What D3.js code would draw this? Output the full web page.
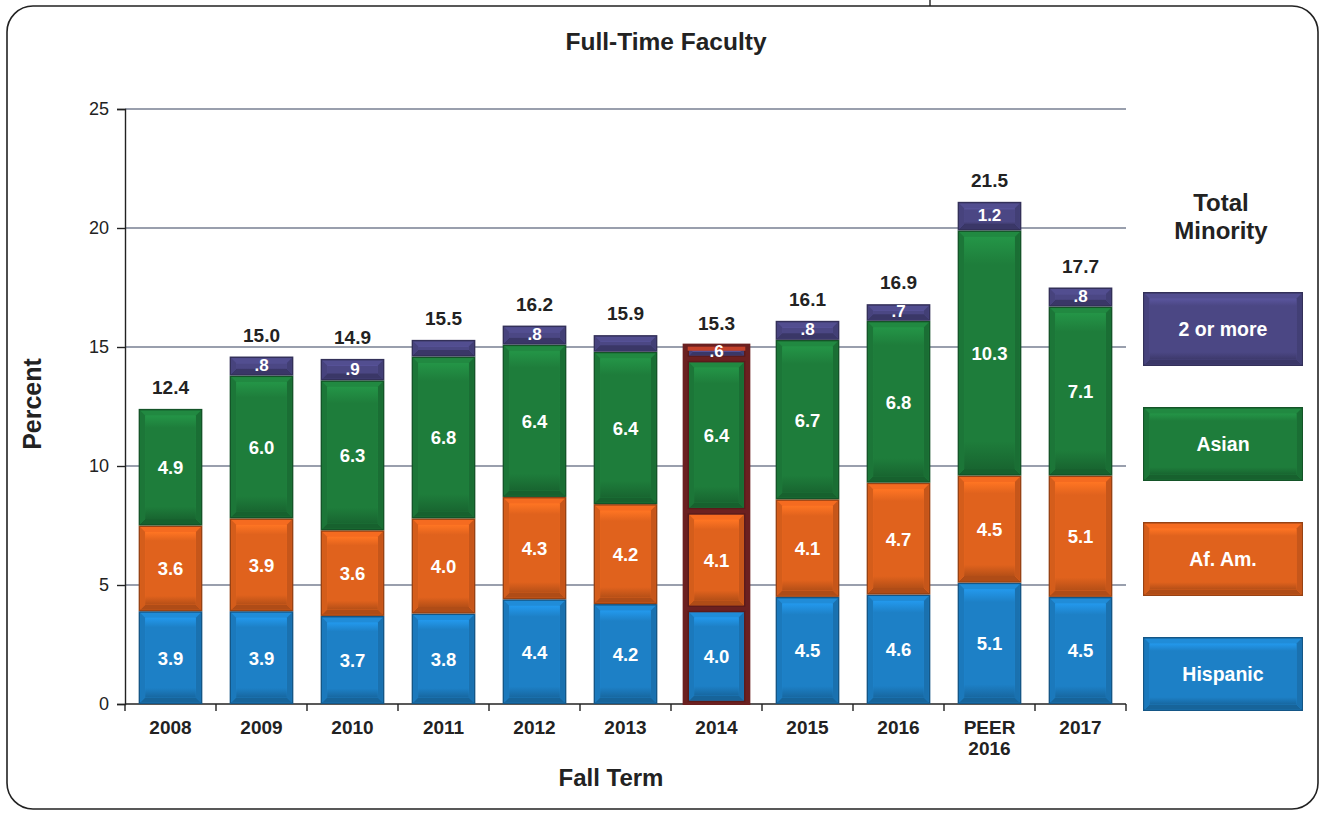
<!DOCTYPE html>
<html><head><meta charset="utf-8">
<script src="https://cdn.jsdelivr.net/npm/d3@7"></script>
<style>
html,body{margin:0;padding:0;background:#fff;}
svg{display:block;font-family:"Liberation Sans",Arial,sans-serif;}
</style></head>
<body>
<svg id="chart" width="1325" height="813"></svg>
<script>
const categories = ["2008","2009","2010","2011","2012","2013","2014","2015","2016","PEER\n2016","2017"];
const hispanic   = [3.9, 3.9, 3.7, 3.8, 4.4, 4.2, 4.0, 4.5, 4.6, 5.1, 4.5];
const afAm       = [3.6, 3.9, 3.6, 4.0, 4.3, 4.2, 4.1, 4.1, 4.7, 4.5, 5.1];
const asian      = [4.9, 6.0, 6.3, 6.8, 6.4, 6.4, 6.4, 6.7, 6.8, 10.3, 7.1];
const twoOrMore  = [0, 0.8, 0.9, 0.7, 0.8, 0.7, 0.6, 0.8, 0.7, 1.2, 0.8];
const twoLabels  = ["", ".8", ".9", "", ".8", "", ".6", ".8", ".7", "1.2", ".8"];
const totals     = ["12.4","15.0","14.9","15.5","16.2","15.9","15.3","16.1","16.9","21.5","17.7"];
const yTicks     = [0, 5, 10, 15, 20, 25];
const seriesNames = ["Hispanic","Af. Am.","Asian","2 or more"];
const seriesColors = ["#1d80c6","#e0621d","#1e7d3b","#4b4784"];
const highlight = "2014";

const svg = d3.select("#chart");

// frame
svg.append("rect").attr("x",7).attr("y",6).attr("width",1311).attr("height",803)
  .attr("rx",26).attr("fill","#fff").attr("stroke","#222").attr("stroke-width",1.6);
svg.append("line").attr("x1",930).attr("x2",930).attr("y1",0).attr("y2",6).attr("stroke","#222").attr("stroke-width",1.4);

const margin = {left:125, right:1126, top:109, bottom:704};
const x = d3.scaleBand().domain(categories).range([margin.left, margin.right]).paddingInner(0.3).paddingOuter(0.15);
const y = d3.scaleLinear().domain([0,25]).range([margin.bottom, margin.top]);

// gridlines
svg.append("g").selectAll("line").data(yTicks.filter(d=>d>0)).join("line")
  .attr("x1",margin.left).attr("x2",margin.right)
  .attr("y1",d=>y(d)).attr("y2",d=>y(d))
  .attr("stroke","#34405c").attr("stroke-width",1.2);

// axes
const yAxis = d3.axisLeft(y).tickValues(yTicks).tickSize(8).tickPadding(8).tickFormat(d3.format("d"));
const gy = svg.append("g").attr("transform",`translate(${margin.left},0)`).call(yAxis);
gy.select(".domain").attr("stroke","#222").attr("stroke-width",1.4);
gy.selectAll(".tick line").attr("stroke","#222").attr("stroke-width",1.4);
gy.selectAll(".tick text").attr("font-size",18).attr("fill","#222").attr("font-family","'Liberation Sans',Arial,sans-serif");

const gx = svg.append("g").attr("transform",`translate(0,${margin.bottom})`);
gx.append("line").attr("x1",margin.left).attr("x2",margin.right).attr("stroke","#222").attr("stroke-width",1.4);
const step = x.step();
const boundaries = categories.map((c,i)=> i===0 ? margin.left : x(c) - (step - x.bandwidth())/2);
boundaries.push(margin.right);
gx.selectAll("line.tk").data(boundaries).join("line").attr("class","tk")
  .attr("x1",d=>d).attr("x2",d=>d).attr("y1",0).attr("y2",7).attr("stroke","#222").attr("stroke-width",1.4);
gx.selectAll("text.cat").data(categories).join("text").attr("class","cat")
  .attr("x",d=>x(d)+x.bandwidth()/2).attr("y",30)
  .attr("text-anchor","middle").attr("font-size",19).attr("font-weight","bold").attr("fill","#222")
  .each(function(d){
    const lines = d.split("\n");
    d3.select(this).selectAll("tspan").data(lines).join("tspan")
      .attr("x",x(d)+x.bandwidth()/2).attr("dy",(l,i)=>i===0?0:21).text(l=>l);
  });

// gradients for bevel look
const defs = svg.append("defs");
seriesColors.forEach((c,i)=>{
  const g = defs.append("linearGradient").attr("id","g"+i).attr("x1",0).attr("y1",0).attr("x2",0).attr("y2",1);
  g.append("stop").attr("offset","0%").attr("stop-color",d3.color(c).brighter(0.5));
  g.append("stop").attr("offset","12%").attr("stop-color",c);
  g.append("stop").attr("offset","88%").attr("stop-color",c);
  g.append("stop").attr("offset","100%").attr("stop-color",d3.color(c).darker(0.6));
});

function bevelRect(g, x0, y0, w, h, ci, edge){
  const c = seriesColors[ci];
  g.append("rect").attr("x",x0).attr("y",y0).attr("width",w).attr("height",h)
    .attr("fill",edge || d3.color(c).darker(1.1));
  const b = Math.min(5, h/3);
  g.append("rect").attr("x",x0+1.5).attr("y",y0+1.5).attr("width",w-3).attr("height",Math.max(0,h-3))
    .attr("fill",d3.color(c).brighter(0.25));
  g.append("path").attr("d",`M${x0+1.5},${y0+h-1.5} L${x0+1.5+b},${y0+h-1.5-b} L${x0+w-1.5-b},${y0+h-1.5-b} L${x0+w-1.5},${y0+h-1.5}Z`)
    .attr("fill",d3.color(c).darker(0.7));
  g.append("path").attr("d",`M${x0+w-1.5},${y0+1.5} L${x0+w-1.5-b},${y0+1.5+b} L${x0+w-1.5-b},${y0+h-1.5-b} L${x0+w-1.5},${y0+h-1.5}Z`)
    .attr("fill",d3.color(c).darker(0.35));
  g.append("path").attr("d",`M${x0+1.5},${y0+1.5} L${x0+1.5+b},${y0+1.5+b} L${x0+1.5+b},${y0+h-1.5-b} L${x0+1.5},${y0+h-1.5}Z`)
    .attr("fill",d3.color(c).darker(0.15));
  g.append("rect").attr("x",x0+1.5+b).attr("y",y0+1.5+b).attr("width",Math.max(0,w-3-2*b)).attr("height",Math.max(0,h-3-2*b))
    .attr("fill",`url(#g${ci})`);
}

// stacked data
const rows = categories.map((c,i)=>({cat:c, vals:[hispanic[i],afAm[i],asian[i],twoOrMore[i]],
  labels:[hispanic[i].toFixed(1), afAm[i].toFixed(1), asian[i].toFixed(1), twoLabels[i]], total:totals[i]}));

const barsG = svg.append("g");
rows.forEach(r=>{
  let cum = 0;
  const x0 = x(r.cat), w = x.bandwidth();
  const isH = r.cat === highlight;
  const sum = r.vals.reduce((a,b)=>a+b,0);
  if (isH) {
    barsG.append("rect").attr("x",x0-2).attr("y",y(sum)-1).attr("width",w+4).attr("height",y(0)-y(sum)+2)
      .attr("fill","#6b2020");
  }
  r.vals.forEach((v,si)=>{
    if (v<=0) { return; }
    const yTop = y(cum+v), yBot = y(cum);
    if (isH) {
      bevelRect(barsG, x0+3, yTop+2, w-6, yBot-yTop-4, si, "#5a1b1b");
      if (si===3) {
        barsG.append("rect").attr("x",x0+3).attr("y",yTop+2).attr("width",w-6).attr("height",(yBot-yTop-4)*0.4).attr("fill","#c4412a");
      }
    } else {
      bevelRect(barsG, x0, yTop, w, yBot-yTop, si);
    }
    if (r.labels[si]) {
      barsG.append("text").attr("x",x0+w/2).attr("y",(yTop+yBot)/2+ (si===3?5:7))
        .attr("text-anchor","middle").attr("font-size",si===3?17:18.5).attr("font-weight","bold")
        .attr("fill","#fff").text(r.labels[si]);
    }
    cum += v;
  });
  barsG.append("text").attr("x",x0+w/2).attr("y",y(sum)-15)
    .attr("text-anchor","middle").attr("font-size",19).attr("font-weight","bold").attr("fill","#222")
    .text(r.total);
});

// titles
svg.append("text").attr("x",666).attr("y",50).attr("text-anchor","middle")
  .attr("font-size",24.5).attr("font-weight","bold").attr("fill","#222").text("Full-Time Faculty");
svg.append("text").attr("transform","translate(41,404) rotate(-90)").attr("text-anchor","middle")
  .attr("font-size",25).attr("font-weight","bold").attr("fill","#222").text("Percent");
svg.append("text").attr("x",611).attr("y",786).attr("text-anchor","middle")
  .attr("font-size",24).attr("font-weight","bold").attr("fill","#222").text("Fall Term");

// legend
svg.append("text").attr("x",1221).attr("y",211).attr("text-anchor","middle")
  .attr("font-size",24).attr("font-weight","bold").attr("fill","#222").text("Total");
svg.append("text").attr("x",1221).attr("y",239).attr("text-anchor","middle")
  .attr("font-size",24).attr("font-weight","bold").attr("fill","#222").text("Minority");
const legendOrder = [3,2,1,0];
const legendY = d3.scalePoint().domain(legendOrder).range([292,637]);
const legG = svg.append("g");
legendOrder.forEach(si=>{
  const ly = legendY(si);
  bevelRect(legG, 1143, ly, 160, 74, si);
  legG.append("text").attr("x",1223).attr("y",ly+44).attr("text-anchor","middle")
    .attr("font-size",19.5).attr("font-weight","bold").attr("fill","#fff").text(seriesNames[si]);
});
</script>
</body></html>
